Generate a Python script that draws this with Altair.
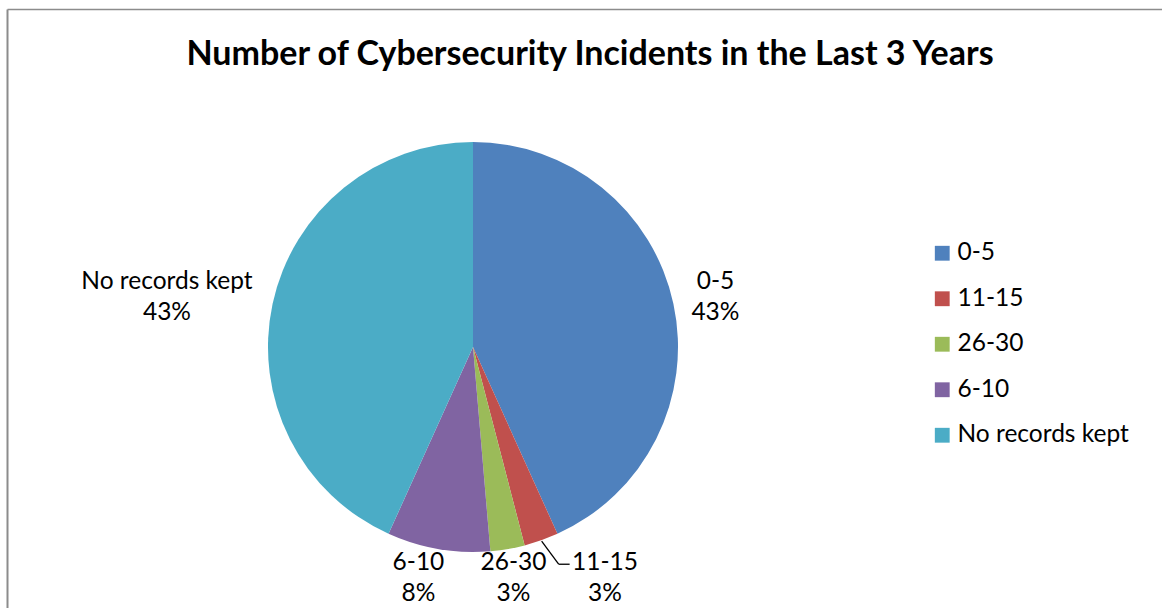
import altair as alt
import pandas as pd

categories = ["0-5", "11-15", "26-30", "6-10", "No records kept"]
counts = [16, 1, 1, 3, 16]
colors = ["#4F81BD", "#C0504D", "#9BBB59", "#8064A2", "#4BACC6"]
title_text = "Number of Cybersecurity Incidents in the Last 3 Years"

total = sum(counts)
df = pd.DataFrame({
    "category": categories,
    "count": counts,
    "order": list(range(len(categories))),
})
df["label"] = [f"{c}\n{round(v / total * 100)}%" for c, v in zip(categories, counts)]

FONT = "Lato"
FS = 24.5
PAD_TOP = 90
W, H = 1162, 608 - PAD_TOP
CX, CY = 473, 347 - PAD_TOP
R = 205

base = alt.Chart(df).encode(
    theta=alt.Theta("count:Q", stack=True),
    order=alt.Order("order:Q"),
)

pie = base.mark_arc(outerRadius=R).encode(
    color=alt.Color(
        "category:N",
        scale=alt.Scale(domain=categories, range=colors),
        legend=alt.Legend(
            title=None, orient="none", legendX=930, legendY=151,
            symbolType="square", symbolSize=220, symbolStrokeWidth=0,
            labelFontSize=FS, labelFont=FONT, labelColor="black",
            rowPadding=20.5, labelLimit=400, labelOffset=3, padding=0,
        ),
    ),
    x=alt.value(CX),
    y=alt.value(CY),
)

def label_layer(cat, radius, dx=0, dy=0):
    return base.mark_text(
        radius=radius, dx=dx, dy=dy, align="center", baseline="middle",
        lineBreak="\n", lineHeight=31, fontSize=FS, font=FONT, color="black",
    ).encode(
        text=alt.condition(f"datum.category == '{cat}'", "label:N", alt.value("")),
        x=alt.value(CX),
        y=alt.value(CY),
    )

labels = [
    label_layer("0-5", 248, dy=-13),
    label_layer("No records kept", 310, dx=-3, dy=0),
    label_layer("6-10", 234, dx=-15, dy=-15),
    label_layer("26-30", 234, dx=1, dy=-15),
    label_layer("11-15", 234, dx=54, dy=-5),
]

leader_base = alt.Chart(df).transform_window(
    cum="sum(count)", sort=[alt.SortField("order")]
).transform_calculate(
    mid=f"(datum.cum - datum.count / 2) / {total} * 2 * PI",
).transform_calculate(
    px=f"{CX} + {R + 1} * sin(datum.mid)",
    py=f"{CY} - {R + 1} * cos(datum.mid)",
).transform_calculate(
    ex="datum.px + 17", ey="datum.py + 23", fx="datum.px + 28",
).transform_filter("datum.category == '11-15'")

leader1 = leader_base.mark_rule(color="black", strokeWidth=1.3).encode(
    x=alt.X("px:Q", scale=None), y=alt.Y("py:Q", scale=None),
    x2="ex:Q", y2="ey:Q",
)
leader2 = leader_base.mark_rule(color="black", strokeWidth=1.3).encode(
    x=alt.X("ex:Q", scale=None), y=alt.Y("ey:Q", scale=None),
    x2="fx:Q", y2="ey:Q",
)

frame_data = alt.Data(values=[{}])
border_left = alt.Chart(frame_data).mark_rule(color="#8c8c8c", strokeWidth=2).encode(
    x=alt.value(7.5), y=alt.value(9.5 - PAD_TOP), y2=alt.value(H)
)
border_top = alt.Chart(frame_data).mark_rule(color="#8c8c8c", strokeWidth=1.5).encode(
    x=alt.value(7.5), x2=alt.value(W), y=alt.value(9.5 - PAD_TOP)
)
title = alt.Chart(frame_data).mark_text(
    text=title_text, font=FONT, fontSize=34, fontWeight="bold", color="black",
    align="center", baseline="alphabetic",
).encode(x=alt.value(590), y=alt.value(65 - PAD_TOP))

chart = alt.layer(
    border_left, border_top, title, pie, *labels, leader1, leader2
).properties(
    width=W, height=H,
    background="white",
    autosize=alt.AutoSizeParams(type="none"),
    padding={"left": 0, "top": PAD_TOP, "right": 0, "bottom": 0},
).configure_view(strokeWidth=0, stroke="transparent")

chart.save("out.html", embed_options={"renderer": "svg", "actions": False})
